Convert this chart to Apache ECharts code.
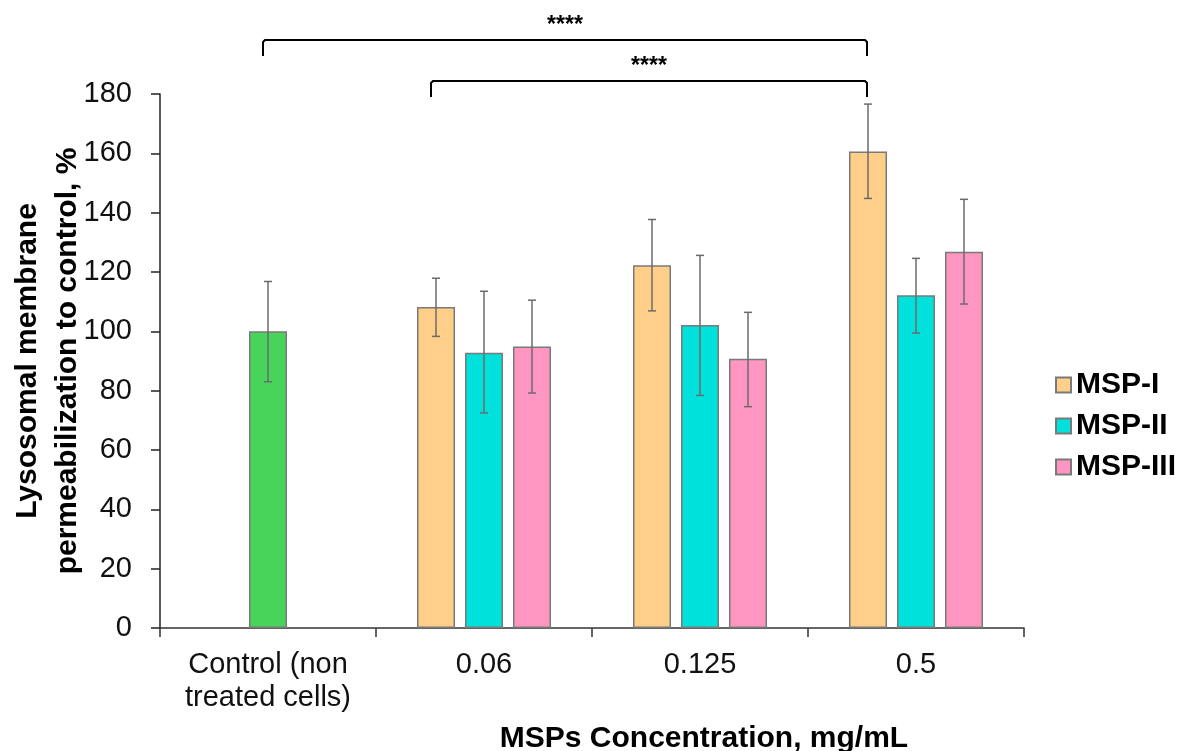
<!DOCTYPE html>
<html>
<head>
<meta charset="utf-8">
<script src="https://cdn.jsdelivr.net/npm/echarts@6/dist/echarts.min.js"></script>
<style>
  html, body { margin: 0; padding: 0; background: #fff; }
  #main { width: 1178px; height: 751px; }
</style>
</head>
<body>
<div id="main"></div>
<script>
// categories on the x axis
var categories = ['Control (non\ntreated cells)', '0.06', '0.125', '0.5'];
var seriesNames = ['MSP-I', 'MSP-II', 'MSP-III'];

// bar heights, % of control ('-' = no bar)
var controlVals = [100, '-', '-', '-'];
var msp1Vals = ['-', 108.2, 122.3, 160.6];
var msp2Vals = ['-', 92.8, 102.1, 112.2];
var msp3Vals = ['-', 94.9, 90.8, 126.8];

// error bar ends (low / high)
var controlErr = [[83.0, 116.8], null, null, null];
var msp1Err = [null, [98.3, 117.9], [106.9, 137.7], [144.8, 176.6]];
var msp2Err = [null, [72.5, 113.5], [78.4, 125.6], [99.4, 124.6]];
var msp3Err = [null, [79.2, 110.5], [74.6, 106.4], [109.2, 144.5]];

// significance marks: [from category, slot, to category, slot, label]
var sigMarks = [
  [0, 1, 3, 0, '****'],
  [1, 0, 3, 0, '****']
];

var colors = ['#FFCF8A', '#00E1DC', '#FF96C2'];
var controlColor = '#48D45A';
var font = "'Liberation Sans', Arial, sans-serif";

var BAR_W = 38;
var BAR_STEP = 48;   // bar width + gap between bars

// collect error bars: [catIndex, low, high, slot]
var errData = [];
function pushErr(list, slot) {
  list.forEach(function (e, i) {
    if (e) errData.push([i, e[0], e[1], slot]);
  });
}
pushErr(controlErr, 1);
pushErr(msp1Err, 0);
pushErr(msp2Err, 1);
pushErr(msp3Err, 2);

var barStyle = function (c) {
  return { color: c, borderColor: '#7a7a7a', borderWidth: 1.5 };
};

var myChart = echarts.init(document.getElementById('main'));
var option = {
  animation: false,
  backgroundColor: '#fff',
  textStyle: { fontFamily: font },
  grid: { left: 160, right: 154, top: 94, bottom: 123, outerBoundsMode: 'none', containLabel: false },
  legend: {
    data: seriesNames,
    orient: 'vertical',
    left: 1050,
    top: 365,
    itemWidth: 15,
    itemHeight: 15,
    itemGap: 11,
    icon: 'rect',
    textStyle: { fontSize: 30, fontWeight: 'bold', color: '#000', fontFamily: font, lineHeight: 30 }
  },
  xAxis: {
    type: 'category',
    data: categories,
    axisLine: { lineStyle: { color: '#333', width: 1.5 } },
    axisTick: { show: true, length: 9, lineStyle: { color: '#333', width: 1.5 } },
    axisLabel: { fontSize: 29, color: '#111', margin: 20, lineHeight: 33, interval: 0, fontFamily: font }
  },
  yAxis: {
    type: 'value',
    min: 0,
    max: 180,
    interval: 20,
    name: 'Lysosomal membrane\npermeabilization to control, %',
    nameLocation: 'middle',
    nameRotate: 90,
    nameGap: 72,
    nameMoveOverlap: false,
    nameTextStyle: { fontSize: 30, fontWeight: 'bold', color: '#000', lineHeight: 40, fontFamily: font },
    axisLine: { show: true, lineStyle: { color: '#222', width: 1.5 } },
    axisTick: { show: true, length: 9, lineStyle: { color: '#222', width: 1.5 } },
    axisLabel: { fontSize: 29, color: '#111', margin: 28, fontFamily: font },
    splitLine: { show: false }
  },
  series: [
    { name: 'MSP-I', type: 'bar', data: msp1Vals, barWidth: BAR_W, barGap: '26.3%', itemStyle: barStyle(colors[0]) },
    { name: 'MSP-II', type: 'bar', stack: 'mid', data: msp2Vals, barWidth: BAR_W, barGap: '26.3%', itemStyle: barStyle(colors[1]) },
    { name: 'MSP-III', type: 'bar', data: msp3Vals, barWidth: BAR_W, barGap: '26.3%', itemStyle: barStyle(colors[2]) },
    { name: 'Control', type: 'bar', stack: 'mid', data: controlVals, barWidth: BAR_W, barGap: '26.3%', itemStyle: barStyle(controlColor) },
    {
      name: 'err',
      type: 'custom',
      data: errData,
      z: 10,
      renderItem: function (params, api) {
        var lo = api.coord([api.value(0), api.value(1)]);
        var hi = api.coord([api.value(0), api.value(2)]);
        var x = lo[0] + (api.value(3) - 1) * BAR_STEP;
        var cap = 4;
        var st = { stroke: '#6b6b6b', lineWidth: 1.5 };
        return {
          type: 'group',
          children: [
            { type: 'line', shape: { x1: x, y1: lo[1], x2: x, y2: hi[1] }, style: st },
            { type: 'line', shape: { x1: x - cap, y1: lo[1], x2: x + cap, y2: lo[1] }, style: st },
            { type: 'line', shape: { x1: x - cap, y1: hi[1], x2: x + cap, y2: hi[1] }, style: st }
          ]
        };
      }
    }
  ]
};
myChart.setOption(option);

// significance brackets above the plot
var bracketY = [40, 81];
var graphics = [];
sigMarks.forEach(function (m, k) {
  var x1 = myChart.convertToPixel({ xAxisIndex: 0 }, m[0]) + (m[1] - 1) * BAR_STEP - 5;
  var x2 = myChart.convertToPixel({ xAxisIndex: 0 }, m[2]) + (m[3] - 1) * BAR_STEP - 1;
  var y = bracketY[k];
  graphics.push({
    type: 'polyline',
    shape: { points: [[x1, y + 16], [x1, y + 2], [x1 + 2, y], [x2 - 2, y], [x2, y + 2], [x2, y + 16]] },
    style: { stroke: '#000', lineWidth: 2, fill: null }
  });
  graphics.push({
    type: 'text',
    x: (x1 + x2) / 2,
    y: y - 14,
    style: { text: m[4], fontSize: 23, fontWeight: 'bold', fill: '#000', align: 'center', verticalAlign: 'middle', fontFamily: font }
  });
});
graphics.push({
  type: 'text',
  x: 704,
  y: 739,
  style: { text: 'MSPs Concentration, mg/mL', fontSize: 30, fontWeight: 'bold', fill: '#000', align: 'center', verticalAlign: 'middle', fontFamily: font }
});
myChart.setOption({ graphic: graphics });
</script>
</body>
</html>
